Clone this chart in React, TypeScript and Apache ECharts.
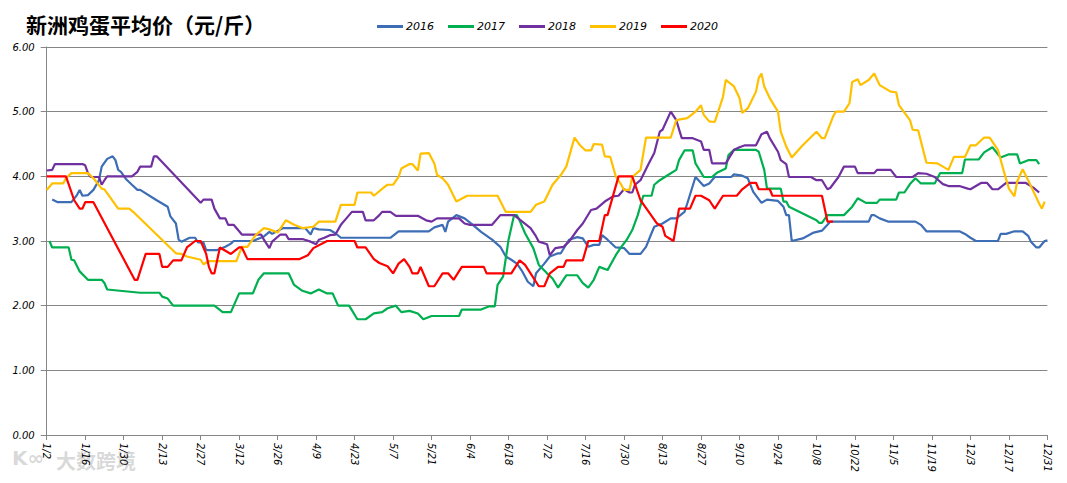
import React, { useEffect, useRef } from "react";
import * as echarts from "echarts";

// Category axis: every day of 2016 from 1/2 to 12/31 (leap year, 365 points)
const categories: string[] = Array.from({ length: 365 }, (_, i) => {
  const d = new Date(2016, 0, 2 + i);
  return `${d.getMonth() + 1}/${d.getDate()}`;
});

const yTicks = [0, 1, 2, 3, 4, 5, 6];
const seriesNames = ["2016", "2017", "2018", "2019", "2020"];

// [day index, price] vertices
const s2016: [number, number][] = [
  [2, 3.64], [4, 3.6], [9, 3.6], [11, 3.71], [12, 3.79], [13, 3.7], [15, 3.71], [17, 3.79], [19, 3.94],
  [20, 4.15], [22, 4.27], [24, 4.31], [25, 4.25], [26, 4.1], [27, 4.07], [29, 3.95], [31, 3.87], [33, 3.79],
  [34, 3.79], [40, 3.63], [44, 3.53], [45, 3.38], [47, 3.27], [48, 3.02], [49, 2.99], [52, 3.05], [54, 3.05],
  [55, 2.98], [57, 2.98], [58, 2.86], [62, 2.86], [65, 2.91], [67, 2.96], [68, 3.0], [75, 3.0], [79, 3.07],
  [81, 3.14], [82, 3.11], [86, 3.2], [94, 3.2], [96, 3.1], [97, 3.2], [99, 3.18], [103, 3.17], [105, 3.12],
  [107, 3.05], [125, 3.05], [128, 3.15], [139, 3.15], [141, 3.21], [144, 3.25], [145, 3.14], [146, 3.3],
  [149, 3.4], [152, 3.35], [155, 3.25], [158, 3.14], [162, 3.02], [165, 2.91], [167, 2.76], [169, 2.71],
  [171, 2.65], [173, 2.53], [175, 2.37], [177, 2.3], [178, 2.5], [181, 2.65], [183, 2.76], [186, 2.81],
  [187, 2.81], [190, 3.02], [193, 3.06], [195, 3.04], [197, 2.91], [199, 2.94], [201, 2.94], [202, 3.09],
  [204, 3.02], [207, 2.9], [210, 2.89], [212, 2.8], [216, 2.8], [218, 2.91], [220, 3.12], [221, 3.22],
  [224, 3.27], [227, 3.35], [229, 3.35], [232, 3.45], [233, 3.58], [236, 3.99], [239, 3.85], [241, 3.89],
  [243, 3.99], [249, 3.99], [250, 4.03], [253, 4.01], [255, 3.97], [257, 3.76], [260, 3.59], [262, 3.64],
  [266, 3.62], [268, 3.53], [269, 3.4], [270, 3.4], [271, 3.0], [275, 3.04], [279, 3.13], [282, 3.16],
  [284, 3.25], [285, 3.3], [299, 3.3], [300, 3.4], [301, 3.4], [303, 3.35], [306, 3.3], [316, 3.3],
  [318, 3.25], [320, 3.15], [332, 3.15], [334, 3.11], [336, 3.05], [338, 3.0], [346, 3.0], [347, 3.11],
  [349, 3.11], [352, 3.15], [355, 3.15], [357, 3.08], [358, 2.99], [360, 2.9], [361, 2.9], [363, 3.0], [364, 3.01],
];

const s2017: [number, number][] = [
  [1, 3.0], [2, 2.9], [8, 2.9], [9, 2.71], [10, 2.7], [12, 2.53], [15, 2.4], [20, 2.4], [21, 2.35],
  [22, 2.25], [34, 2.2], [41, 2.2], [42, 2.14], [44, 2.11], [46, 2.0], [61, 2.0], [64, 1.9], [67, 1.9],
  [70, 2.19], [75, 2.19], [77, 2.4], [79, 2.5], [88, 2.5], [90, 2.32], [93, 2.23], [96, 2.19], [99, 2.25],
  [102, 2.19], [104, 2.19], [106, 2.0], [110, 2.0], [113, 1.79], [116, 1.79], [119, 1.88], [122, 1.9],
  [124, 1.96], [127, 2.0], [129, 1.9], [132, 1.92], [135, 1.88], [137, 1.79], [140, 1.84], [150, 1.84],
  [151, 1.94], [158, 1.94], [161, 1.99], [163, 1.99], [164, 2.32], [166, 2.45], [168, 3.02], [170, 3.4],
  [171, 3.4], [172, 3.32], [174, 3.12], [177, 2.89], [179, 2.63], [182, 2.5], [184, 2.42], [186, 2.28],
  [189, 2.47], [193, 2.47], [195, 2.35], [197, 2.28], [199, 2.4], [201, 2.6], [204, 2.55], [207, 2.78],
  [209, 2.91], [211, 3.02], [213, 3.17], [215, 3.4], [217, 3.7], [220, 3.7], [221, 3.87], [223, 3.94],
  [226, 4.02], [229, 4.1], [230, 4.25], [232, 4.4], [235, 4.4], [236, 4.2], [239, 3.99], [242, 3.99],
  [244, 4.06], [247, 4.12], [248, 4.33], [250, 4.41], [258, 4.41], [259, 4.38], [261, 4.1], [262, 3.81],
  [267, 3.81], [268, 3.61], [269, 3.61], [270, 3.53], [280, 3.32], [281, 3.28], [282, 3.28], [284, 3.4],
  [290, 3.4], [293, 3.53], [295, 3.66], [298, 3.59], [302, 3.59], [303, 3.64], [309, 3.64], [310, 3.75],
  [312, 3.75], [314, 3.88], [316, 3.97], [318, 3.89], [323, 3.89], [325, 4.05], [333, 4.05], [334, 4.26],
  [339, 4.26], [341, 4.37], [344, 4.45], [347, 4.29], [350, 4.34], [353, 4.34], [354, 4.2], [357, 4.25],
  [360, 4.25], [361, 4.19],
];

const s2018: [number, number][] = [
  [0, 4.09], [2, 4.1], [3, 4.19], [13, 4.19], [14, 4.17], [15, 4.05], [16, 3.99], [19, 3.99], [20, 3.87],
  [21, 3.94], [22, 4.0], [31, 4.0], [33, 4.07], [34, 4.15], [38, 4.15], [39, 4.31], [40, 4.31], [56, 3.59],
  [57, 3.64], [60, 3.64], [61, 3.5], [63, 3.35], [65, 3.35], [66, 3.25], [68, 3.25], [71, 3.1], [78, 3.1],
  [79, 3.02], [81, 2.89], [82, 2.99], [85, 3.1], [87, 3.1], [88, 3.03], [93, 3.03], [96, 2.99], [98, 2.95],
  [99, 3.02], [101, 3.05], [103, 3.09], [105, 3.1], [107, 3.25], [109, 3.35], [111, 3.45], [115, 3.45],
  [116, 3.32], [119, 3.32], [121, 3.4], [122, 3.45], [125, 3.45], [127, 3.39], [135, 3.39], [138, 3.32],
  [140, 3.3], [142, 3.35], [150, 3.35], [152, 3.27], [154, 3.25], [162, 3.25], [165, 3.4], [170, 3.4],
  [173, 3.3], [176, 3.2], [178, 3.07], [179, 2.99], [182, 2.95], [183, 2.78], [185, 2.89], [188, 2.91],
  [190, 2.99], [193, 3.17], [195, 3.27], [198, 3.48], [200, 3.5], [203, 3.61], [206, 3.69], [208, 3.7],
  [210, 3.8], [212, 3.75], [213, 3.75], [214, 3.87], [216, 3.94], [219, 4.2], [221, 4.36], [223, 4.69],
  [224, 4.72], [227, 5.0], [229, 4.87], [231, 4.59], [235, 4.59], [238, 4.54], [239, 4.41], [241, 4.41],
  [242, 4.2], [247, 4.2], [250, 4.41], [252, 4.45], [254, 4.48], [258, 4.48], [260, 4.65], [262, 4.69],
  [263, 4.59], [266, 4.38], [267, 4.25], [269, 4.19], [270, 3.99], [278, 3.99], [280, 3.94], [282, 3.94],
  [284, 3.8], [285, 3.82], [288, 3.99], [290, 4.15], [294, 4.15], [295, 4.05], [301, 4.05], [302, 4.1],
  [307, 4.1], [309, 3.99], [315, 3.99], [317, 4.05], [320, 4.04], [323, 3.99], [326, 3.88], [328, 3.85],
  [332, 3.85], [335, 3.81], [336, 3.8], [338, 3.85], [340, 3.9], [342, 3.9], [344, 3.8], [346, 3.8],
  [349, 3.9], [356, 3.9], [358, 3.85], [359, 3.82], [361, 3.75],
];

const s2019: [number, number][] = [
  [0, 3.79], [2, 3.89], [6, 3.89], [7, 3.97], [9, 4.05], [15, 4.05], [17, 3.97], [20, 3.81], [21, 3.8],
  [26, 3.5], [30, 3.5], [32, 3.43], [47, 2.81], [49, 2.8], [51, 2.76], [56, 2.71], [57, 2.64], [59, 2.69],
  [69, 2.69], [71, 2.91], [73, 2.91], [76, 3.09], [79, 3.2], [81, 3.18], [84, 3.13], [87, 3.32], [90, 3.25],
  [93, 3.2], [97, 3.22], [99, 3.3], [105, 3.3], [107, 3.56], [112, 3.56], [113, 3.75], [118, 3.75],
  [119, 3.7], [123, 3.84], [124, 3.87], [126, 3.87], [128, 3.99], [129, 4.12], [132, 4.19], [133, 4.19],
  [135, 4.09], [136, 4.35], [139, 4.36], [141, 4.2], [142, 4.02], [144, 3.97], [146, 3.87], [149, 3.61],
  [153, 3.7], [164, 3.7], [167, 3.45], [176, 3.45], [178, 3.56], [181, 3.61], [184, 3.87], [187, 4.02],
  [189, 4.15], [192, 4.6], [194, 4.48], [196, 4.4], [198, 4.4], [199, 4.5], [202, 4.49], [203, 4.31],
  [205, 4.3], [207, 4.0], [209, 3.87], [210, 3.79], [212, 3.79], [213, 3.99], [216, 4.1], [218, 4.6],
  [227, 4.6], [229, 4.87], [233, 4.9], [236, 5.0], [238, 5.1], [239, 4.95], [241, 4.85], [243, 4.84],
  [246, 5.23], [247, 5.49], [250, 5.39], [252, 5.21], [253, 4.98], [255, 5.05], [258, 5.31], [259, 5.52],
  [260, 5.59], [261, 5.39], [263, 5.21], [266, 5.0], [267, 4.69], [269, 4.46], [271, 4.29], [275, 4.48],
  [280, 4.69], [282, 4.59], [283, 4.59], [286, 4.92], [287, 5.0], [290, 5.0], [292, 5.13], [293, 5.46],
  [295, 5.5], [296, 5.41], [299, 5.49], [301, 5.59], [303, 5.41], [307, 5.31], [309, 5.3], [310, 5.1],
  [314, 4.87], [315, 4.72], [317, 4.71], [320, 4.21], [324, 4.2], [328, 4.1], [330, 4.3], [334, 4.3],
  [336, 4.48], [338, 4.48], [341, 4.6], [343, 4.6], [346, 4.41], [348, 4.1], [350, 3.81], [352, 3.69],
  [353, 3.92], [355, 4.11], [357, 3.94], [359, 3.76], [361, 3.58], [362, 3.5], [363, 3.61],
];

const s2020: [number, number][] = [
  [0, 4.0], [7, 4.0], [10, 3.63], [12, 3.5], [13, 3.5], [14, 3.6], [17, 3.6], [32, 2.4], [33, 2.4],
  [36, 2.8], [41, 2.8], [42, 2.6], [44, 2.6], [46, 2.7], [49, 2.7], [50, 2.8], [51, 2.9], [54, 3.0],
  [56, 3.0], [58, 2.8], [59, 2.6], [60, 2.5], [61, 2.5], [63, 2.9], [65, 2.85], [67, 2.8], [70, 2.9],
  [71, 2.9], [73, 2.72], [92, 2.72], [95, 2.78], [97, 2.89], [102, 3.0], [112, 3.0], [113, 2.9], [116, 2.9],
  [119, 2.72], [121, 2.66], [124, 2.61], [126, 2.5], [128, 2.65], [130, 2.72], [132, 2.6], [133, 2.5],
  [135, 2.5], [136, 2.6], [139, 2.3], [141, 2.3], [144, 2.5], [146, 2.5], [148, 2.4], [151, 2.6], [159, 2.6],
  [160, 2.5], [169, 2.5], [172, 2.7], [174, 2.63], [176, 2.5], [179, 2.3], [181, 2.3], [183, 2.5],
  [186, 2.6], [188, 2.6], [189, 2.7], [195, 2.7], [197, 3.0], [201, 3.0], [203, 3.4], [204, 3.4], [208, 4.0],
  [213, 4.0], [216, 3.63], [219, 3.45], [222, 3.27], [224, 3.22], [225, 3.08], [228, 3.0], [230, 3.5],
  [234, 3.5], [236, 3.7], [238, 3.7], [241, 3.63], [243, 3.5], [246, 3.7], [251, 3.7], [253, 3.8], [256, 3.9],
  [258, 3.9], [259, 3.8], [263, 3.8], [264, 3.7], [282, 3.7], [284, 3.3], [286, 3.3],
];

const seriesData = [s2016, s2017, s2018, s2019, s2020];
const colors = ["#3D6DB5", "#00B050", "#7030A0", "#FFC000", "#FF0000"];

export default function App() {
  const ref = useRef<HTMLDivElement>(null);
  useEffect(() => {
    if (!ref.current) return;
    const chart = echarts.init(ref.current, undefined, { renderer: "svg" });
    const axisGray = "#868686";
    chart.setOption({
      animation: false,
      backgroundColor: "#ffffff",
      title: {
        text: "新洲鸡蛋平均价（元/斤）",
        left: 21,
        top: 8,
        textStyle: {
          fontFamily: "Noto Sans CJK SC",
          fontSize: 21,
          fontWeight: "bold",
          color: "#000",
        },
      },
      legend: {
        data: seriesNames,
        left: 372,
        top: 16,
        itemWidth: 26,
        itemHeight: 3,
        itemGap: 14,
        icon: "rect",
        textStyle: {
          fontFamily: "DejaVu Sans",
          fontStyle: "italic",
          fontSize: 11,
          color: "#000",
          padding: [0, 0, 0, -2],
        },
      },
      grid: { left: 46.7, right: 19.6, top: 47, bottom: 48, containLabel: false },
      xAxis: {
        type: "category",
        data: categories,
        boundaryGap: false,
        axisLine: { lineStyle: { color: axisGray, width: 1 } },
        axisTick: { show: true, interval: 13, length: 5, lineStyle: { color: axisGray } },
        axisLabel: {
          interval: 13,
          rotate: -90,
          margin: 8,
          fontFamily: "DejaVu Sans",
          fontStyle: "italic",
          fontSize: 10,
          color: "#000",
        },
        splitLine: { show: false },
      },
      yAxis: {
        type: "value",
        min: yTicks[0],
        max: yTicks[yTicks.length - 1],
        interval: 1,
        axisLine: { show: true, lineStyle: { color: axisGray, width: 1 } },
        axisTick: { show: true, length: 6, lineStyle: { color: axisGray } },
        axisLabel: {
          margin: 12,
          formatter: (v: number) => v.toFixed(2),
          fontFamily: "DejaVu Sans",
          fontStyle: "italic",
          fontSize: 10,
          color: "#000",
        },
        splitLine: { show: true, lineStyle: { color: axisGray, width: 1 } },
      },
      graphic: [
        {
          type: "text",
          left: 56,
          top: 450,
          silent: true,
          style: {
            text: "大数跨境",
            fontFamily: "Noto Sans CJK SC",
            fontSize: 20,
            fontWeight: "bold",
            fill: "rgba(170,170,170,0.45)",
          },
        },
        {
          type: "text",
          left: 12,
          top: 448,
          silent: true,
          style: {
            text: "K∞",
            fontFamily: "DejaVu Sans",
            fontSize: 20,
            fontWeight: "bold",
            fill: "rgba(170,170,170,0.45)",
          },
        },
      ],
      series: seriesNames.map((name, i) => ({
        name,
        type: "line",
        data: seriesData[i],
        showSymbol: false,
        symbol: "none",
        lineStyle: { color: colors[i], width: 2.2 },
        itemStyle: { color: colors[i] },
        z: 2 + i,
      })),
    });
    return () => chart.dispose();
  }, []);
  return (
    <div
      ref={ref}
      style={{ position: "absolute", left: 0, top: 0, width: 1067, height: 483 }}
    />
  );
}
